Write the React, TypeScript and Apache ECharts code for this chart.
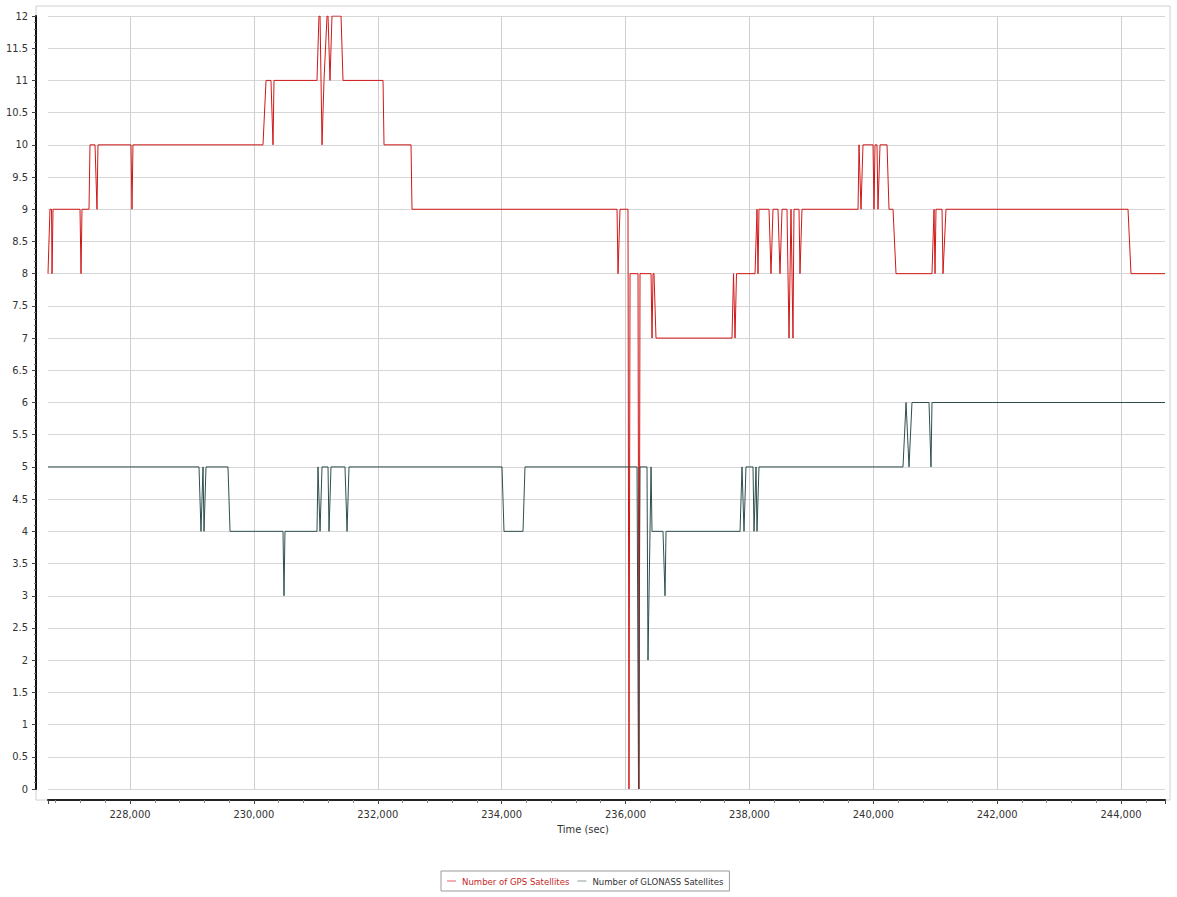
import React, { useEffect, useRef } from "react";
import * as echarts from "echarts";

// GPS satellite count over time (sec)
const gpsTime = [
  226676, 226708, 226733, 226741, 226757, 227193, 227209, 227225, 227338, 227354,
  227435, 227467, 227483, 228016, 228032, 228048, 230147, 230196, 230276, 230309,
  230325, 231019, 231051, 231068, 231100, 231132, 231181, 231197, 231229, 231261,
  231407, 231439, 232085, 232101, 232537, 232553, 235863, 235879, 235911, 236040,
  236056, 236073, 236202, 236218, 236234, 236412, 236428, 236444, 236460, 236492,
  237719, 237744, 237768, 237792, 238091, 238123, 238139, 238155, 238317, 238349,
  238381, 238462, 238494, 238527, 238607, 238640, 238672, 238704, 238720, 238801,
  238817, 238849, 239754, 239770, 239802, 239834, 239996, 240012, 240028, 240060,
  240076, 240109, 240222, 240254, 240319, 240367, 240948, 240981, 240997, 241013,
  241110, 241126, 241174, 244113, 244161, 244710,
];
const gpsSats = [
  8, 9, 9, 8, 9, 9, 8, 9, 9, 10,
  10, 9, 10, 10, 9, 10, 10, 11, 11, 10,
  11, 11, 12, 12, 10, 11, 12, 12, 11, 12,
  12, 11, 11, 10, 10, 9, 9, 8, 9, 9,
  0, 8, 8, 0, 8, 8, 7, 8, 8, 7,
  7, 8, 7, 8, 8, 9, 8, 9, 9, 8,
  9, 9, 8, 9, 9, 7, 9, 7, 9, 9,
  8, 9, 9, 10, 9, 10, 10, 9, 10, 10,
  9, 10, 10, 9, 9, 8, 8, 9, 8, 9,
  9, 8, 9, 9, 8, 8,
];

// GLONASS satellite count over time (sec)
const glonassTime = [
  226676, 229114, 229146, 229179, 229195, 229227, 229582, 229615, 230470, 230486,
  230502, 231019, 231035, 231068, 231100, 231197, 231213, 231245, 231471, 231504,
  231536, 234006, 234038, 234345, 234377, 236186, 236210, 236234, 236347, 236363,
  236412, 236428, 236605, 236638, 236654, 237849, 237881, 237913, 237945, 238058,
  238075, 238107, 238123, 238155, 240480, 240529, 240577, 240625, 240900, 240932,
  240948, 244710,
];
const glonassSats = [
  5, 5, 4, 5, 4, 5, 5, 4, 4, 3,
  4, 4, 5, 4, 5, 5, 4, 5, 5, 4,
  5, 5, 4, 4, 5, 5, 0, 5, 5, 2,
  5, 4, 4, 3, 4, 4, 5, 4, 5, 5,
  4, 5, 4, 5, 5, 6, 5, 6, 6, 5,
  6, 6,
];

const seriesNames = ["Number of GPS Satellites", "Number of GLONASS Satellites"];
const xMin = 226676;
const xMax = 244710;
const yMin = 0;
const yMax = 12;
const yStep = 0.5;
const xAxisTitle = "Time (sec)";

const FONT = "'DejaVu Sans Condensed', 'Liberation Sans', sans-serif";

export default function App() {
  const ref = useRef<HTMLDivElement>(null);

  useEffect(() => {
    if (!ref.current) return;
    const chart = echarts.init(ref.current, undefined, { renderer: "svg" });
    const gpsData = gpsTime.map((t, i) => [t, gpsSats[i]]);
    const glonassData = glonassTime.map((t, i) => [t, glonassSats[i]]);

    chart.setOption({
      animation: false,
      backgroundColor: "#ffffff",
      grid: { left: 48, right: 12, top: 16, bottom: 108, containLabel: false },
      xAxis: {
        type: "value",
        min: xMin,
        max: xMax,
        splitNumber: 9,
        offset: 11,
        axisLine: { show: true, onZero: false, lineStyle: { color: "#222", width: 2 } },
        axisTick: { show: true, length: 4, lineStyle: { color: "#444" } },
        minorTick: { show: true, splitNumber: 5, length: 3, lineStyle: { color: "#888" } },
        axisLabel: {
          showMinLabel: false,
          showMaxLabel: false,
          margin: 9,
          color: "#333",
          fontSize: 11,
          fontFamily: FONT,
          formatter: (v: number) => v.toLocaleString("en-US"),
        },
        splitLine: {
          show: true,
          showMinLine: false,
          showMaxLine: false,
          lineStyle: { color: "#cfcfcf", width: 1 },
        },
      },
      yAxis: {
        type: "value",
        min: yMin,
        max: yMax,
        interval: yStep,
        offset: 12,
        axisLine: { show: true, onZero: false, lineStyle: { color: "#111", width: 2 } },
        axisTick: { show: true, length: 4, lineStyle: { color: "#444" } },
        minorTick: { show: true, splitNumber: 5, length: 2, lineStyle: { color: "#777" } },
        axisLabel: {
          margin: 8,
          color: "#333",
          fontSize: 11,
          fontFamily: FONT,
        },
        splitLine: { show: true, lineStyle: { color: "#d6d6d6", width: 1 } },
      },
      legend: {
        left: 441,
        top: 871,
        orient: "horizontal",
        padding: [5, 6],
        itemGap: 8,
        itemWidth: 9,
        itemHeight: 1,
        icon: "rect",
        borderColor: "#9a9a9a",
        borderWidth: 1,
        borderRadius: 0,
        textStyle: { fontSize: 9.5, fontFamily: FONT, padding: [0, 0, 0, 1] },
        data: [
          { name: seriesNames[0], textStyle: { color: "#c62828" } },
          { name: seriesNames[1], textStyle: { color: "#333333" } },
        ],
      },
      graphic: [
        {
          type: "rect",
          silent: true,
          z: -10,
          shape: { x: 36, y: 6, width: 1134, height: 794 },
          style: { fill: "none", stroke: "#d0d0d0", lineWidth: 1 },
        },
        {
          type: "text",
          x: 583,
          y: 829,
          style: {
            text: xAxisTitle,
            fill: "#333",
            font: `11px ${FONT}`,
            textAlign: "center",
            textVerticalAlign: "middle",
          },
        },
      ],
      series: [
        {
          name: seriesNames[0],
          type: "line",
          data: gpsData,
          symbol: "none",
          showSymbol: false,
          lineStyle: { color: "#d01818", width: 1 },
          itemStyle: { color: "#e06060" },
        },
        {
          name: seriesNames[1],
          type: "line",
          data: glonassData,
          symbol: "none",
          showSymbol: false,
          lineStyle: { color: "#2f4f4f", width: 1 },
          itemStyle: { color: "#8a9a9a" },
        },
      ],
    });

    return () => chart.dispose();
  }, []);

  return (
    <div
      ref={ref}
      style={{ position: "absolute", left: 0, top: 0, width: 1177, height: 897 }}
    />
  );
}
